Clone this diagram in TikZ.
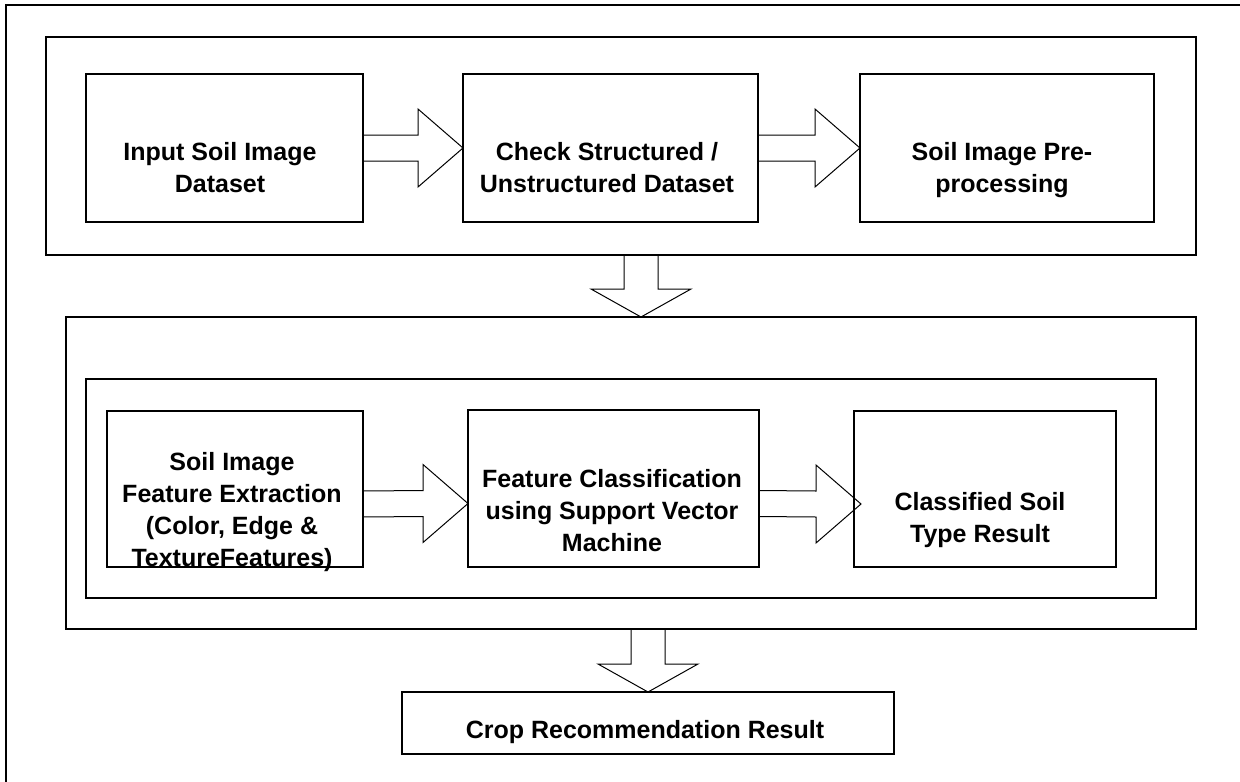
\documentclass[tikz,border=0pt]{standalone}
\usepackage{fontspec}
\setmainfont{Liberation Sans}
\usetikzlibrary{calc}
\tikzset{
  box/.style={draw=black, line width=1.4pt, inner sep=0pt, outer sep=0pt},
  barrow/.style={draw=black, line width=1pt, line join=miter},
  framel/.style={draw=black, line width=1.4pt},
  txt/.style={font=\fontsize{25}{32}\selectfont\bfseries, align=center, inner sep=0pt, anchor=north},
}
\newcommand{\harrow}[4]{%
  \draw[barrow] ($(#1.east)+(0,#3-13)$) -- ($(#2.west)+(#4-45,#3-13)$) -- ($(#2.west)+(#4-45,#3-39)$) -- ($(#2.west)+(#4,#3)$) -- ($(#2.west)+(#4-45,#3+39)$) -- ($(#2.west)+(#4-45,#3+13)$) -- ($(#1.east)+(0,#3+13)$);}
\newcommand{\varrow}[2]{%
  \draw[barrow] ($(#1)+(-17,0)$) -- ($(#2)+(-17,-28)$) -- ($(#2)+(-50,-28)$) -- (#2) -- ($(#2)+(50,-28)$) -- ($(#2)+(17,-28)$) -- ($(#1)+(17,0)$);}
\begin{document}
\begin{tikzpicture}[x=1pt,y=-1pt]
\useasboundingbox[fill=white] (0,0) rectangle (1240,782);
% outer frame (clipped by the page on right and bottom)
\draw[framel] (6,782) -- (6,5) -- (1240,5);
% groups
\node[box, minimum width=1150pt, minimum height=218pt] (g1) at (621,146) {};
\node[box, minimum width=1130pt, minimum height=312pt] (g2) at (631,473) {};
\node[box, minimum width=1070pt, minimum height=219pt] (g3) at (621,488.5) {};
% boxes
\node[box, minimum width=277pt, minimum height=148pt] (b1) at (224.5,148) {};
\node[box, minimum width=295pt, minimum height=148pt] (b2) at (610.5,148) {};
\node[box, minimum width=294pt, minimum height=148pt] (b3) at (1007,148) {};
\node[box, minimum width=256pt, minimum height=156pt] (b4) at (235,489) {};
\node[box, minimum width=291pt, minimum height=157pt] (b5) at (613.5,488.5) {};
\node[box, minimum width=262pt, minimum height=156pt] (b6) at (985,489) {};
\node[box, minimum width=492pt, minimum height=62pt] (crop) at (648,723) {};
% texts
\node[txt] (t1) at (220,137.6) {\strut Input Soil Image\\Dataset};
\node[txt] (t2) at (607,137.6) {\strut Check Structured /\\Unstructured Dataset};
\node[txt] (t3) at (1002,137.6) {\strut Soil Image Pre-\\processing};
\node[txt] (t4) at (232,447.6) {\strut Soil Image\\Feature Extraction\\(Color, Edge \&\\TextureFeatures)};
\node[txt] (t5) at (612,464.6) {\strut Feature Classification\\using Support Vector\\Machine};
\node[txt] (t6) at (980,487.6) {\strut Classified Soil\\Type Result};
\node[txt] (t7) at (645,715.6) {\strut Crop Recommendation Result};
% horizontal block arrows
\harrow{b1}{b2}{0}{0}
\harrow{b2}{b3}{0}{0}
\harrow{b4}{b5}{15}{0}
\harrow{b5}{b6}{15}{7}
% vertical block arrows
\path (g1.south) ++(20,0) coordinate (d1s);
\path (g2.north) ++(10,0) coordinate (d1e);
\path (g2.south) ++(17,0) coordinate (d2s);
\coordinate (d2e) at (crop.north);
\varrow{d1s}{d1e}
\varrow{d2s}{d2e}
\end{tikzpicture}
\end{document}
